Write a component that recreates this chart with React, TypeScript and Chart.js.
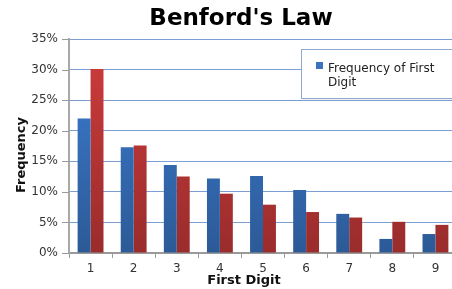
import React, { useEffect, useRef } from "react";
import { Chart, registerables } from "chart.js";

Chart.register(...registerables);

const digits = ["1", "2", "3", "4", "5", "6", "7", "8", "9"];
const observed = [22.0, 17.3, 14.4, 12.2, 12.6, 10.3, 6.4, 2.3, 3.1];
const benford = [30.1, 17.6, 12.5, 9.7, 7.9, 6.7, 5.8, 5.1, 4.6];
const yTicks = [0, 5, 10, 15, 20, 25, 30, 35];
const titleText = "Benford's Law";
const xTitle = "First Digit";
const yTitle = "Frequency";
const legendLines = ["Frequency of First", "Digit"];

const FONT = "'DejaVu Sans', sans-serif";

function grad(ctx: any, top: string, bottom: string) {
  const chart = ctx.chart;
  const area = chart.chartArea;
  if (!area) return top;
  const g = chart.ctx.createLinearGradient(0, area.top, 0, area.bottom);
  g.addColorStop(0, top);
  g.addColorStop(1, bottom);
  return g;
}

const decorPlugin = {
  id: "decor",
  afterDraw(chart: any) {
    const c = chart.ctx;
    c.save();
    // title
    c.fillStyle = "#000";
    c.font = `bold 23px ${FONT}`;
    c.textAlign = "center";
    c.textBaseline = "middle";
    c.fillText(titleText, 241, 19);
    // x title
    c.fillStyle = "#111";
    c.font = `bold 13px ${FONT}`;
    c.fillText(xTitle, 244, 281);
    // y title
    c.save();
    c.translate(22, 155);
    c.rotate(-Math.PI / 2);
    c.fillText(yTitle, 0, 0);
    c.restore();
    // legend
    const lx = 301, ly = 49, lw = 200, lh = 49;
    c.fillStyle = "rgba(0,0,0,0.06)";
    c.fillRect(lx + 1, ly + 1, lw, lh + 1);
    c.fillStyle = "#fff";
    c.fillRect(lx, ly, lw, lh);
    c.strokeStyle = "#8fa9d4";
    c.lineWidth = 1;
    c.strokeRect(lx + 0.5, ly + 0.5, lw, lh);
    c.fillStyle = "#3a74bf";
    c.fillRect(316, 62, 7, 7);
    c.fillStyle = "#222";
    c.font = `12px ${FONT}`;
    c.textAlign = "left";
    c.textBaseline = "alphabetic";
    c.fillText(legendLines[0], 328, 72);
    c.fillText(legendLines[1], 328, 86);
    c.restore();
  },
};

export default function App() {
  const ref = useRef<HTMLCanvasElement>(null);
  useEffect(() => {
    document.body.style.overflow = "hidden";
    const chart = new Chart(ref.current!, {
      type: "bar",
      data: {
        labels: digits,
        datasets: [
          {
            label: "Frequency of First Digit",
            data: observed,
            backgroundColor: (ctx: any) => grad(ctx, "#3d7dd2", "#2c5a97"),
            borderWidth: 0,
          },
          {
            label: "Benford",
            data: benford,
            backgroundColor: (ctx: any) => grad(ctx, "#cf3c3c", "#9a2c2c"),
            borderWidth: 0,
          },
        ],
      },
      options: {
        animation: false,
        responsive: false,
        maintainAspectRatio: false,
        layout: { padding: { top: 39, right: 25, bottom: 0, left: 0 } },
        datasets: { bar: { categoryPercentage: 0.6, barPercentage: 1 } },
        plugins: {
          legend: { display: false },
          title: { display: false },
          tooltip: { enabled: false },
        },
        scales: {
          x: {
            offset: true,
            afterFit: (s: any) => {
              s.height = 36;
            },
            grid: {
              display: true,
              drawOnChartArea: false,
              drawTicks: true,
              tickLength: 5,
              color: "#9a9a9a",
              offset: true,
            },
            border: { display: true, color: "#9a9a9a", width: 2 },
            ticks: {
              color: "#333",
              font: { family: FONT, size: 12 },
              padding: 4,
            },
          },
          y: {
            min: 0,
            max: 35,
            afterFit: (s: any) => {
              s.width = 69;
            },
            afterBuildTicks: (s: any) => {
              s.ticks = yTicks.map((v) => ({ value: v }));
            },
            grid: {
              color: "#7c9fd4",
              lineWidth: 1,
              drawTicks: false,
            },
            border: { display: true, color: "#a8a8a8", width: 2 },
            ticks: {
              color: "#333",
              font: { family: FONT, size: 12 },
              padding: 11,
              callback: (v: any) => `${v}%`,
            },
          },
        },
      },
      plugins: [
        decorPlugin,
        {
          id: "ytickmarks",
          afterDatasetsDraw(chart: any) {
            const c = chart.ctx;
            const y = chart.scales.y;
            const a = chart.chartArea;
            c.save();
            c.strokeStyle = "#9a9a9a";
            c.lineWidth = 1;
            yTicks.forEach((v) => {
              const py = Math.round(y.getPixelForValue(v)) + 0.5;
              c.beginPath();
              c.moveTo(a.left - 7, py);
              c.lineTo(a.left, py);
              c.stroke();
            });
            c.restore();
          },
        },
      ],
    });
    return () => chart.destroy();
  }, []);
  return (
    <div style={{ position: "fixed", left: 0, top: 0, width: 452, height: 289, overflow: "hidden", background: "#fff" }}>
      <canvas ref={ref} width={482} height={289} style={{ width: 482, height: 289, display: "block" }} />
    </div>
  );
}
